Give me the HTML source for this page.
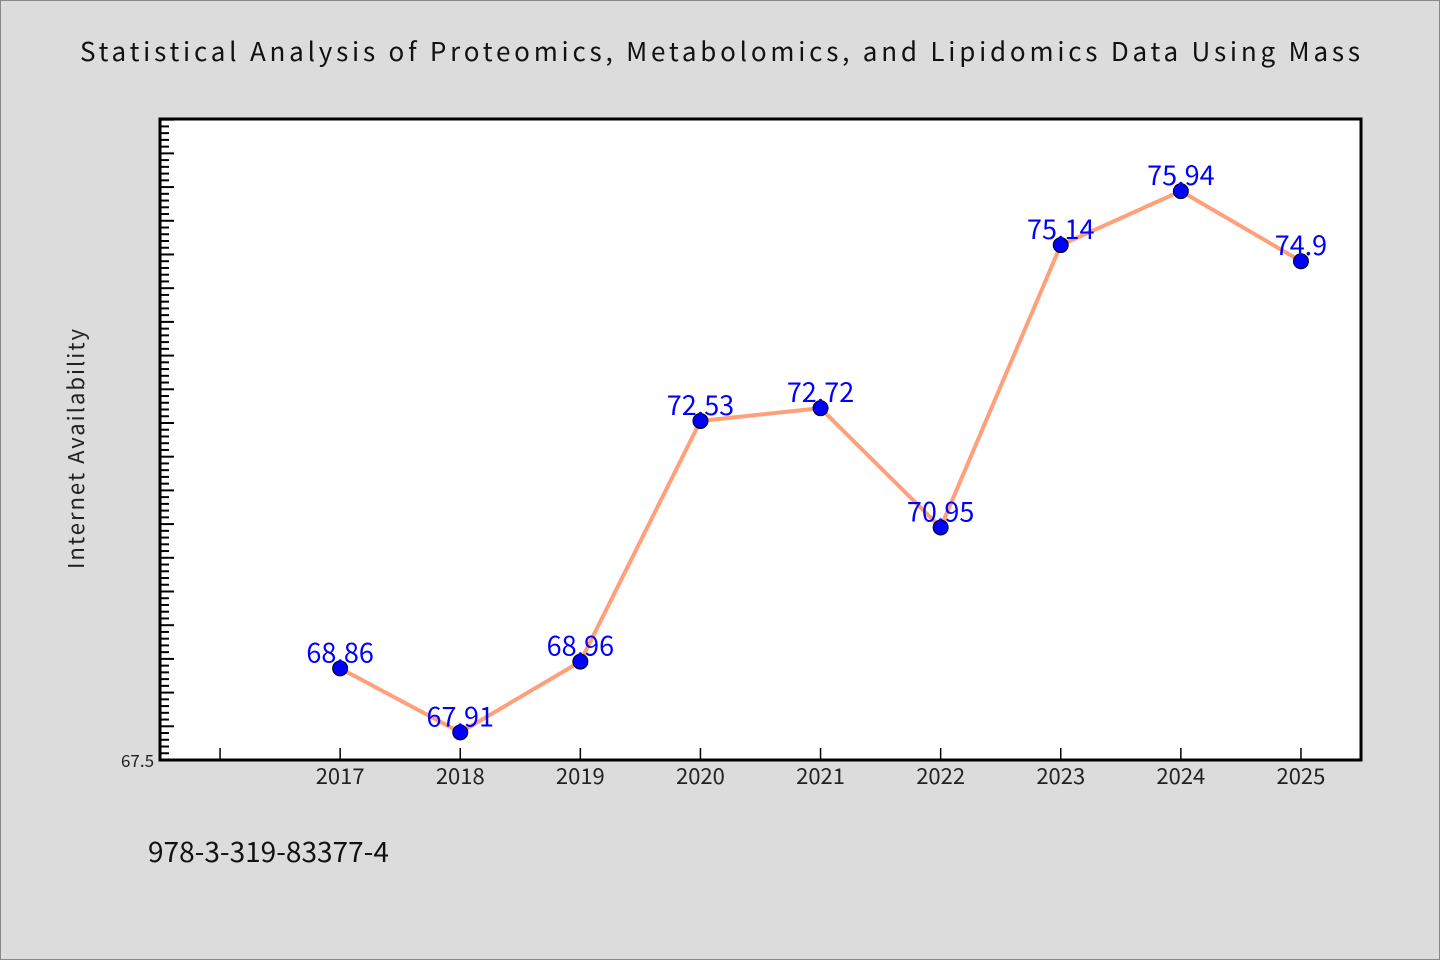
<!DOCTYPE html>
<html><head><meta charset="utf-8"><style>
html,body{margin:0;padding:0;background:#dcdcdc;}
svg{display:block;font-family:"WenQuanYi Zen Hei","Noto Sans CJK SC","Liberation Sans",sans-serif;}
</style></head><body>
<svg id="chart" width="1440" height="960" viewBox="0 0 1440 960">
<rect x="0.5" y="0.5" width="1439" height="959" fill="#dcdcdc" stroke="#888"/>
<text x="80" y="61" font-size="26" textLength="1280" lengthAdjust="spacing" fill="#111">Statistical Analysis of Proteomics, Metabolomics, and Lipidomics Data Using Mass</text>
<rect x="160" y="119" width="1201" height="641" fill="#fff"/>
<g id="yticks"></g><g id="xticks"></g><g id="series"></g>
<rect x="160" y="119" width="1201" height="641" fill="none" stroke="#000" stroke-width="3"/>
<text x="84" y="448" font-size="22" fill="#222" text-anchor="middle" letter-spacing="2" transform="rotate(-90 84 448)">Internet Availability</text>
<text x="148" y="862" font-size="28" fill="#111">978-3-319-83377-4</text>
</svg>
<script>
const categories = ["", "2017","2018","2019","2020","2021","2022","2023","2024","2025"];
const values = [null, 68.86, 67.91, 68.96, 72.53, 72.72, 70.95, 75.14, 75.94, 74.9];
const valueLabels = ["", "68.86","67.91","68.96","72.53","72.72","70.95","75.14","75.94","74.9"];
const yMin = 67.5, yMax = 77.01;
const L=160,R=1361,T=119,B=760;
const NS="http://www.w3.org/2000/svg";
const band=(R-L)/categories.length;
function x(i){return L+band*(i+0.5);}
function y(v){return B-(v-yMin)/(yMax-yMin)*(B-T);}
function mk(tag,attrs,parent){const e=document.createElementNS(NS,tag);for(const k in attrs)e.setAttribute(k,attrs[k]);parent.appendChild(e);return e;}
const yt=document.getElementById('yticks');
for(let k=1;;k++){const v=yMin+k*0.1;if(v>yMax)break;const yy=y(v);const major=k%5===0;
 const t=mk('line',{x1:L,x2:L+(major?14:9),y1:yy,y2:yy,stroke:'#000','stroke-width':2},yt);
 
 }
const yl=mk('text',{x:154,y:B+7,'font-size':17,'text-anchor':'end',fill:'#222'},yt);
yl.textContent=String(yMin);


const xt=document.getElementById('xticks');
categories.forEach((c,i)=>{const xx=x(i);
 const t=mk('line',{x1:xx,x2:xx,y1:B,y2:B-12,stroke:'#000','stroke-width':1.5},xt);
 
 
 if(c){const l=mk('text',{x:xx,y:B+24,'font-size':22,'text-anchor':'middle',fill:'#222'},xt);l.textContent=c;
 
 }});
const s=document.getElementById('series');
let pts=[];values.forEach((v,i)=>{if(v!=null)pts.push(x(i)+','+y(v));});
const pl=mk('polyline',{points:pts.join(' '),fill:'none',stroke:'#ffa07a','stroke-width':4,'stroke-linejoin':'round'},s);


values.forEach((v,i)=>{if(v==null)return;
 const c=mk('circle',{cx:x(i),cy:y(v),r:7.5,fill:'#0000ff',stroke:'#000','stroke-width':1},s);
 
 
 const t=mk('text',{x:x(i),y:y(v)-6,'font-size':27,'text-anchor':'middle',fill:'#0000ff'},s);
 t.textContent=valueLabels[i];
 
 });
</script>
</body></html>
